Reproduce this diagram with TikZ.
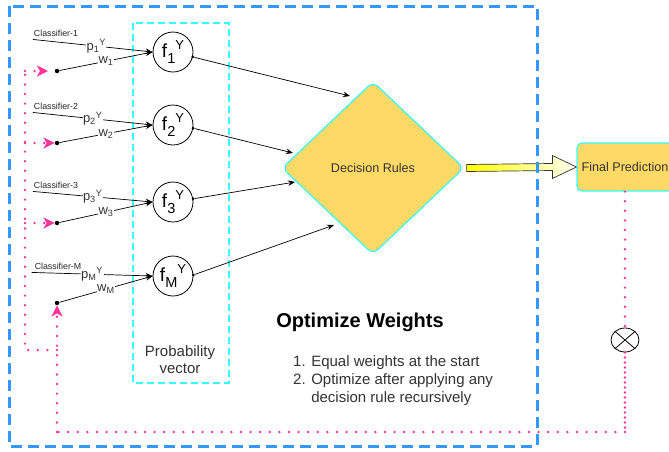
\documentclass[tikz,border=0pt]{standalone}
\usepackage{fontspec}
\setmainfont{Liberation Sans}
\usetikzlibrary{shapes.geometric, arrows.meta, calc}
\definecolor{bluedash}{HTML}{3399FF}
\definecolor{cyandash}{HTML}{33FFFF}
\definecolor{pinkline}{HTML}{FF3399}
\definecolor{goldfill}{HTML}{FFD966}
\definecolor{txtgray}{HTML}{333333}
\newcommand{\fsub}[1]{\raisebox{-0.32em}{\fontsize{14.5}{14.5}\selectfont #1}}
\newcommand{\fsup}[1]{\raisebox{0.42em}{\fontsize{13}{13}\selectfont #1}}
\begin{document}
\begin{tikzpicture}[x=1pt,y=-1pt,
  fcirc/.style={circle, draw, line width=0.8, minimum size=40, inner sep=0, fill=white, font=\fontsize{19}{19}\selectfont},
  clabel/.style={inner sep=0, font=\fontsize{8.8}{10}\selectfont, text=black!85},
  elabel/.style={fill=white, inner sep=0.5, font=\fontsize{13}{13}\selectfont, text=txtgray},
  wdot/.style={circle, fill=black, inner sep=0, minimum size=4.5},
  sdot/.style={circle, fill=black, inner sep=0, minimum size=3},
  blk/.style={line width=0.7, -{Stealth[length=7,width=5.5]}},
  pinkdot/.style={draw=pinkline, line width=2.7, line cap=round, dash pattern=on 0pt off 9.6pt},
  pinkdense/.style={draw=pinkline, line width=2.7, line cap=round, dash pattern=on 0pt off 5pt},
  pinktip/.style={-{Stealth[length=11,width=11,inset=3]}},
  goldbox/.style={fill=goldfill, draw=cyandash, line width=1.2},
  graytxt/.style={text=txtgray, inner sep=0}
]
\clip (0,0) rectangle (669,451);
\fill[white] (0,0) rectangle (669,451);

% cyan probability-vector box
\draw[cyandash, line width=1.6, dash pattern=on 7pt off 4pt] (133,23) rectangle (229,383);

% circles
\node[fcirc] (f1) at (173,52) {f\fsub{1}\fsup{Y}};
\node[fcirc] (f2) at (173,125) {f\fsub{2}\fsup{Y}};
\node[fcirc] (f3) at (173,202) {f\fsub{3}\fsup{Y}};
\node[fcirc] (fM) at (173,276) {f\fsub{M}\fsup{Y}};

% classifier labels
\node[clabel] (c1) at (56,33) {Classifier-1};
\node[clabel] (c2) at (56,106) {Classifier-2};
\node[clabel] (c3) at (56,185) {Classifier-3};
\node[clabel] (cM) at (58,266) {Classifier-M};

% weight dots
\node[wdot] (d1) at (57,71) {};
\node[wdot] (d2) at (57,143) {};
\node[wdot] (d3) at (57,223) {};
\node[wdot] (dM) at (57,303) {};

% probability and weight edges
\draw[blk] ([shift={(-1,3)}]c1.south west) -- node[elabel, pos=0.53] (p1) {p\textsubscript{1}\textsuperscript{Y}} (f1.west);
\draw[blk] (d1) -- node[elabel, pos=0.5] (w1) {w\textsubscript{1}} (f1.west);
\draw[blk] ([shift={(-1,3)}]c2.south west) -- node[elabel, pos=0.5] (p2) {p\textsubscript{2}\textsuperscript{Y}} (f2.west);
\draw[blk] (d2) -- node[elabel, pos=0.5] (w2) {w\textsubscript{2}} (f2.west);
\draw[blk] ([shift={(-1,3)}]c3.south west) -- node[elabel, pos=0.5] (p3) {p\textsubscript{3}\textsuperscript{Y}} (f3.west);
\draw[blk] (d3) -- node[elabel, pos=0.5] (w3) {w\textsubscript{3}} (f3.west);
\draw[blk] ([shift={(-3,3)}]cM.south west) -- node[elabel, pos=0.5] (pM) {p\textsubscript{M}\textsuperscript{Y}} (fM.west);
\draw[blk] (dM) -- node[elabel, pos=0.5] (wM) {w\textsubscript{M}} (fM.west);

% decision diamond
\node[diamond, goldbox, minimum width=182, minimum height=173, inner sep=0, rounded corners=7,
      font=\fontsize{12.6}{14}\selectfont, text=txtgray] (dr) at (373,168) {Decision Rules};

% arrows to diamond
\coordinate (t1) at (350,96);
\coordinate (t2) at (293,153);
\coordinate (t3) at (295,182);
\coordinate (tM) at (334,225);
\node[sdot] (s1) at (f1.-14) {};
\node[sdot] (s2) at (f2.-9) {};
\node[sdot] (s3) at (f3.9) {};
\node[sdot] (sM) at (fM.3) {};
\draw[blk] (s1) -- (t1);
\draw[blk] (s2) -- (t2);
\draw[blk] (s3) -- (t3);
\draw[blk] (sM) -- (tM);

% final prediction
\node[goldbox, rounded corners=5, minimum width=96, minimum height=48, inner sep=0,
      font=\fontsize{12.6}{14}\selectfont, text=txtgray] (fp) at (625,167) {Final Prediction};

% big block arrow
\draw[line width=0.7, draw=black!80, left color=yellow, right color=yellow!4]
  ([shift={(2,-3.5)}]dr.east) -- ([shift={(-24,-3.5)}]fp.west) -- ([shift={(-24,-11.5)}]fp.west)
  -- (fp.west) -- ([shift={(-24,11.5)}]fp.west) -- ([shift={(-24,3.5)}]fp.west)
  -- ([shift={(2,3.5)}]dr.east) -- cycle;

% texts
\node[font=\bfseries\fontsize{20}{20}\selectfont, inner sep=0] (ow) at (360,322) {Optimize Weights};
\node[graytxt, anchor=north west, align=left, font=\fontsize{15}{18}\selectfont] (lst) at (293,355)
  {1. Equal weights at the start\\2. Optimize after applying any\\\phantom{2. }decision rule recursively};
\node[graytxt, align=center, font=\fontsize{15}{17}\selectfont] (pv) at (180,360) {Probability\\vector};

% feedback (pink dotted)
\node[draw, ellipse, minimum width=28, minimum height=24, fill=white, inner sep=0, line width=0.8] (ox) at (625,340) {};
\draw[line width=0.8] (ox.north east) -- (ox.south west) (ox.north west) -- (ox.south east);
\coordinate (pc1) at (625,432);
\coordinate (pc2) at (57,432);
\coordinate (pj) at (57,350);
\coordinate (pl) at (25,350);
\coordinate (pt) at (25,71);
\coordinate (pb2) at (25,143);
\coordinate (pb3) at (25,223);
\coordinate (a1) at (48,71);
\draw[pinkdot] (fp.south) -- (ox.north);
\draw[pinkdense] (ox.south) -- (pc1);
\draw[pinkdot] (pc1) -- (pc2);
\draw[pinkdot, pinktip] (pc2) -- (dM);
\draw[pinkdot] (pj) -- (pl) -- (pt);
\draw[pinkdot, pinktip] (pt) -- (a1);
\draw[pinkdot, pinktip] (pb2) -- (d2);
\draw[pinkdot, pinktip] (pb3) -- (d3);

% outer blue dashed box
\draw[bluedash, line width=3, dash pattern=on 11pt off 6pt] (9,6) rectangle (537,446);
\end{tikzpicture}
\end{document}
